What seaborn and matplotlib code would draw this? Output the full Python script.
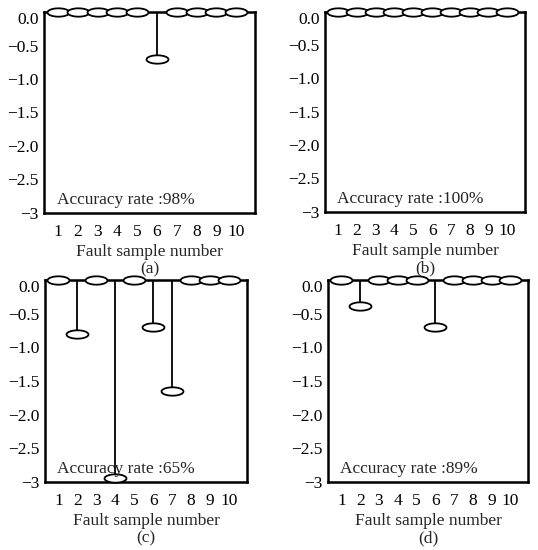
import numpy as np
import pandas as pd
import seaborn as sns
import matplotlib.pyplot as plt
from matplotlib.path import Path

# data
samples = [1, 2, 3, 4, 5, 6, 7, 8, 9, 10]
vals_a = [0, 0, 0, 0, 0, -0.7, 0, 0, 0, 0]
vals_b = [0, 0, 0, 0, 0, 0, 0, 0, 0, 0]
vals_c = [0, -0.8, 0, -2.95, 0, -0.7, -1.65, 0, 0, 0]
vals_d = [0, -0.38, 0, 0, 0, -0.7, 0, 0, 0, 0]
accuracy = ["98%", "100%", "65%", "89%"]
letters = ["(a)", "(b)", "(c)", "(d)"]
ytick_vals = [0, -0.5, -1.0, -1.5, -2.0, -2.5, -3]
ytick_labels = ["0.0", "\u22120.5", "\u22121.0", "\u22121.5", "\u22122.0", "\u22122.5", "\u22123"]

sns.set_style("white")
plt.rcParams['font.family'] = ['Liberation Serif', 'DejaVu Serif']

# flat ellipse marker
t = np.linspace(0, 2 * np.pi, 60)
ellipse = Path(np.column_stack([np.cos(t), 0.38 * np.sin(t)]), closed=True)

fig = plt.figure(figsize=(5.38, 5.5), dpi=100)
boxes = [[0.082, 0.613, 0.392, 0.365],
         [0.604, 0.615, 0.372, 0.364],
         [0.084, 0.124, 0.375, 0.367],
         [0.610, 0.124, 0.372, 0.367]]
all_vals = [vals_a, vals_b, vals_c, vals_d]

for box, vals, acc, let in zip(boxes, all_vals, accuracy, letters):
    ax = fig.add_axes(box)
    df = pd.DataFrame({"sample": samples, "value": vals})
    ax.axhline(0, color="black", lw=1.5, zorder=1)
    ax.vlines(df["sample"], 0, df["value"], color="black", lw=1.3, zorder=2)
    sns.scatterplot(data=df, x="sample", y="value", marker=ellipse, s=250,
                    facecolor="white", edgecolor="black", linewidth=1.3,
                    ax=ax, zorder=3, clip_on=False, legend=False)
    ax.set_xlim(0.3, 10.95)
    ax.set_ylim(-3, 0)
    ax.set_xticks(samples)
    ax.set_yticks(ytick_vals)
    ax.set_yticklabels(ytick_labels)
    ax.tick_params(axis="both", direction="in", length=5, width=1.2,
                   labelsize=12.5, colors="black")
    ax.tick_params(axis="x", pad=8)
    ax.tick_params(axis="y", pad=4)
    # the 0.0 label sits a little below the top line in the original
    ax.get_yticklabels()[0].set_va("top")
    for s in ax.spines.values():
        s.set_color("black")
        s.set_linewidth(1.8)
    ax.set_ylabel("")
    ax.set_xlabel("Fault sample number\n" + let, fontsize=12.5, linespacing=1.1, labelpad=3)
    ax.text(0.06, 0.025, "Accuracy rate :" + acc, transform=ax.transAxes,
            fontsize=12.5, ha="left", va="bottom")

plt.savefig("out.png", dpi=100)
